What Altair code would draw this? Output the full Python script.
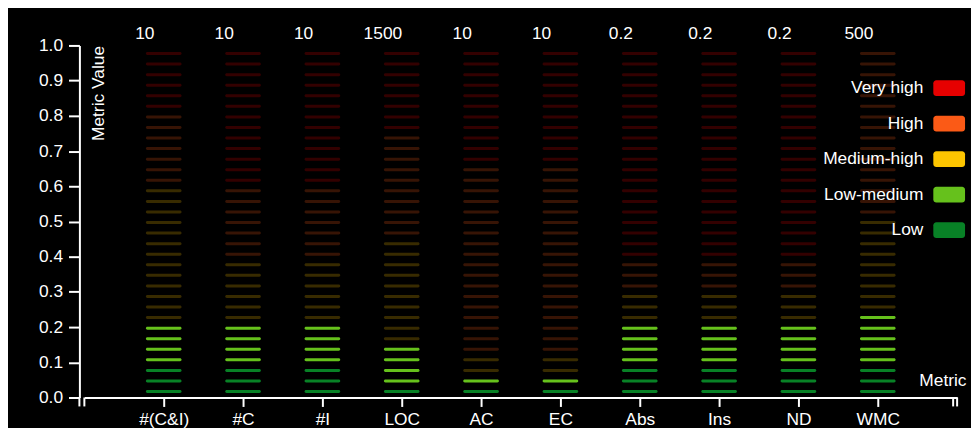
import altair as alt
import pandas as pd

# ---- data ----
metrics = ["#(C&I)", "#C", "#I", "LOC", "AC", "EC", "Abs", "Ins", "ND", "WMC"]
max_labels = ["10", "10", "10", "1500", "10", "10", "0.2", "0.2", "0.2", "500"]
y_ticks = [0.0, 0.1, 0.2, 0.3, 0.4, 0.5, 0.6, 0.7, 0.8, 0.9, 1.0]

# the 33 dash levels of each gauge (bottom to top)
dash_levels = [0.017, 0.047, 0.077, 0.107, 0.137, 0.167, 0.197, 0.227, 0.257,
               0.287, 0.317, 0.347, 0.377, 0.407, 0.437, 0.467, 0.497, 0.527,
               0.557, 0.587, 0.617, 0.647, 0.677, 0.707, 0.737, 0.767, 0.797,
               0.827, 0.857, 0.887, 0.917, 0.947, 0.977]

risk_bands = ["Very high", "High", "Medium-high", "Low-medium", "Low"]
band_colors = ["#e60000", "#fb5a16", "#fdc500", "#66c11c", "#088126"]

# number of dashes in each risk band per metric (bottom to top)
low_n = [3, 3, 3, 1, 1, 1, 3, 3, 3, 3]
lowmed_n = [4, 4, 4, 4, 1, 1, 4, 4, 4, 5]
medhigh_n = [13, 6, 6, 10, 2, 2, 3, 3, 3, 9]
high_n = [7, 7, 7, 10, 18, 18, 3, 3, 3, 16]
veryhigh_n = [6, 13, 13, 8, 11, 11, 20, 20, 20, 0]
# number of lit dashes per metric
lit_n = [7, 7, 7, 5, 2, 2, 7, 7, 7, 8]

rows = []
bands_bottom_up = ["Low", "Low-medium", "Medium-high", "High", "Very high"]
for mi, m in enumerate(metrics):
    counts = [low_n[mi], lowmed_n[mi], medhigh_n[mi], high_n[mi], veryhigh_n[mi]]
    seq = []
    for b, c in zip(bands_bottom_up, counts):
        seq += [b] * c
    for k, lvl in enumerate(dash_levels):
        rows.append({"metric": m, "value": lvl, "band": seq[k], "lit": k < lit_n[mi]})
df = pd.DataFrame(rows)
labels_df = pd.DataFrame({"metric": metrics, "label": max_labels})

FONT = "Liberation Sans"
FS = 17.5
W, H = 885, 355
xscale = alt.Scale(type="point", domain=metrics, range=[5, 885], padding=1)
yscale = alt.Scale(domain=[0, 1])

x_axis = alt.Axis(title="Metric", titleX=894, titleY=-12, titleAlign="right",
                  titleBaseline="alphabetic", titleColor="white", titleFont=FONT,
                  titleFontSize=FS, titleFontWeight="normal",
                  labelAngle=0, labelColor="white", labelFont=FONT, labelFontSize=FS,
                  labelPadding=4, labelOverlap=False, domainColor="white", domainWidth=2,
                  tickColor="white", tickWidth=2, tickSize=9, grid=False)
y_axis = alt.Axis(title="Metric Value", values=y_ticks,
                  format=".1f", titleX=10, titleY=0, titleAngle=270, titleAlign="right",
                  titleBaseline="top", titleColor="white", titleFont=FONT,
                  titleFontSize=FS, titleFontWeight="normal",
                  labelColor="white", labelFont=FONT, labelFontSize=FS, labelPadding=6,
                  labelOverlap=False,
                  domainColor="white", domainWidth=2, tickColor="white", tickWidth=2,
                  tickSize=11, grid=False)

rounded_rect = ("M-0.81,-0.5H0.81A0.19,0.19,0,0,1,1,-0.31V0.31A0.19,0.19,0,0,1,0.81,0.5"
                "H-0.81A0.19,0.19,0,0,1,-1,0.31V-0.31A0.19,0.19,0,0,1,-0.81,-0.5Z")

dashes = alt.Chart(df).mark_tick(size=36, thickness=3, cornerRadius=1.5).encode(
    x=alt.X("metric:N", scale=xscale, sort=metrics, axis=x_axis),
    y=alt.Y("value:Q", scale=yscale, axis=y_axis),
    color=alt.Color("band:N", scale=alt.Scale(domain=risk_bands, range=band_colors),
                    legend=alt.Legend(title=None, orient="none", legendX=861, legendY=27,
                                      direction="vertical", symbolType=rounded_rect,
                                      symbolSize=1024, symbolStrokeWidth=0, symbolOpacity=1,
                                      labelAlign="right", labelOffset={"expr": "-42"},
                                      labelColor="white",
                                      labelFont=FONT, labelFontSize=FS, labelLimit=0,
                                      rowPadding=10.8, padding=0)),
    opacity=alt.condition("datum.lit", alt.value(1), alt.value(0.22)),
)

top_labels = alt.Chart(labels_df).mark_text(
    dx=-19, dy=-6, baseline="alphabetic", align="center", color="white",
    font=FONT, fontSize=FS).encode(
    x=alt.X("metric:N", scale=xscale, sort=metrics, axis=x_axis),
    y=alt.Y(datum=1.0, type="quantitative", scale=yscale, axis=y_axis),
    text="label:N",
)

# small outer ticks at both ends of the x axis line
outer = [
    alt.Chart(labels_df.head(1)).mark_rule(color="white", strokeWidth=2).encode(
        x=alt.value(px), y=alt.value(H), y2=alt.value(H + 9))
    for px in (0, 5, 881, 885)
]

chart = alt.layer(dashes, top_labels, *outer).properties(
    width=W, height=H,
    padding={"left": 72, "top": 36, "right": 14, "bottom": 29},
    autosize=alt.AutoSizeParams(type="none"),
    background="black",
).configure_view(stroke=None)

chart.save("out.html", embed_options={"renderer": "svg", "actions": False})
